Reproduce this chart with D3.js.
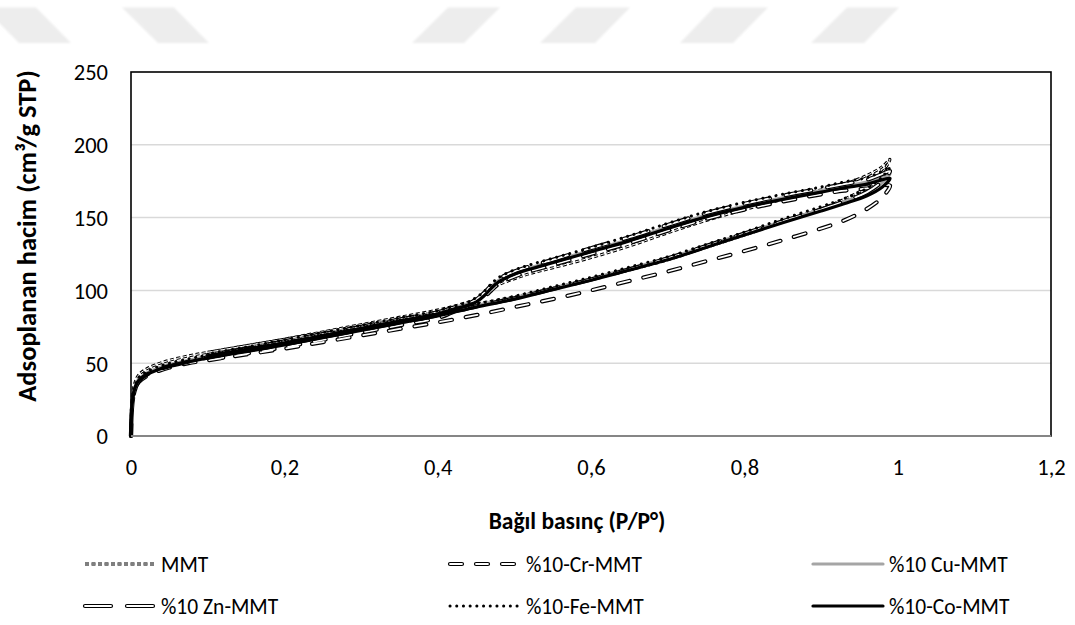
<!DOCTYPE html>
<html>
<head>
<meta charset="utf-8">
<script src="https://cdn.jsdelivr.net/npm/d3@7"></script>
<style>
  html, body { margin: 0; padding: 0; background: #fff; }
  svg { display: block; }
  text { font-family: Carlito, Calibri, Lato, "Open Sans", sans-serif; fill: #000; }
</style>
</head>
<body>
<svg id="chart" width="1075" height="625"></svg>
<script>
// ---------------- data ----------------
const xTicks = [0, 0.2, 0.4, 0.6, 0.8, 1, 1.2];
const yTicks = [0, 50, 100, 150, 200, 250];
const xTickLabels = ["0", "0,2", "0,4", "0,6", "0,8", "1", "1,2"];
const yTickLabels = ["0", "50", "100", "150", "200", "250"];
const xTitle = "Bağıl basınç (P/P°)";
const yTitle = "Adsoplanan hacim (cm³/g STP)";
const seriesNames = ["MMT", "%10-Cr-MMT", "%10 Cu-MMT", "%10 Zn-MMT", "%10-Fe-MMT", "%10-Co-MMT"];

// relative pressure, adsorption branch
const pAds = [0, 0.001, 0.003, 0.006, 0.01, 0.02, 0.035, 0.05, 0.075, 0.1, 0.15, 0.2, 0.25, 0.3, 0.35, 0.4, 0.45, 0.5, 0.55, 0.6, 0.65, 0.7, 0.75, 0.8, 0.85, 0.9, 0.93, 0.96, 0.98, 0.99];
// relative pressure, desorption branch
const pDes = [0.99, 0.98, 0.96, 0.93, 0.9, 0.85, 0.8, 0.75, 0.7, 0.65, 0.6, 0.55, 0.52, 0.5, 0.48, 0.47, 0.46, 0.45, 0.44, 0.42, 0.4, 0.35, 0.3, 0.25, 0.2, 0.15, 0.1];

const mmtAds = [0, 22, 32, 38, 42, 46, 49.5, 52, 55, 57.5, 62, 66.5, 71, 75.5, 80, 85, 90.5, 95.5, 101.5, 107.5, 114, 121, 129.5, 138, 147, 156, 162.5, 171, 181, 190];
const crAds  = [0, 17, 27, 33, 37, 41, 44.5, 47, 50, 52, 56, 60, 64.5, 69, 73.5, 78, 83, 88.5, 94, 100, 106.5, 113, 120, 127, 134.5, 142.5, 148, 156, 164, 172];
const cuAds  = [0, 19, 29, 35, 39, 43, 46.5, 49, 52, 54.5, 59, 63.5, 68.5, 73.5, 78.5, 83.5, 89.5, 95, 101.5, 108, 115, 122, 130.5, 139, 147.5, 155.5, 161, 167, 174, 180];
const znAds  = [0, 17, 27, 33, 37.5, 42, 45.5, 48, 51, 54, 58.5, 63, 68, 73, 78, 83, 89, 94.5, 101, 107.5, 114.5, 122, 130.5, 139, 147.5, 155.5, 161, 167.5, 175, 182];
const feAds  = [0, 20, 30, 36, 40, 44, 47.5, 50, 53, 55.5, 60, 64.5, 69.5, 74.5, 79.5, 84.5, 90.5, 96, 102.5, 109, 116, 123, 131.5, 140, 149, 157.5, 163, 170, 178, 185];
const coAds  = [0, 18, 28, 34, 38, 42, 45.5, 48, 51, 53.5, 58, 62.5, 67.5, 72.5, 77.5, 82.5, 88.5, 94, 100.5, 107, 114, 121, 129.5, 138, 146.5, 154.5, 159.5, 165, 171, 177];

const mmtDes = [190, 185, 179, 173, 169, 162.5, 155.5, 148, 139.5, 130.5, 122.5, 115.5, 111.5, 108, 104, 101, 97, 94, 92, 89, 86.5, 81.5, 76.5, 71.5, 66.5, 62, 57.5];
const crDes  = [172, 172, 170, 168.5, 166, 161, 155.5, 149, 141, 132.5, 125, 117.5, 113, 109.5, 104.5, 100, 95, 91, 88.5, 85, 81, 76, 71, 66, 61, 56.5, 52];
const cuDes  = [180, 178, 174.5, 171.5, 168.5, 163.5, 158, 151.5, 143.5, 135, 127.5, 120, 115.5, 112, 107, 102.5, 97, 93, 91, 88, 85, 80, 75, 70, 65, 60.5, 56];
const znDes  = [182, 180, 176, 173, 170, 165, 159.5, 153, 145, 136.5, 129, 121, 116.5, 113, 108, 103.5, 98, 93.5, 91, 88, 85, 80, 75, 70, 65, 60, 55.5];
const feDes  = [185, 182, 177.5, 174.5, 171, 166, 160.5, 154, 146, 137.5, 129.5, 122, 117.5, 114, 109, 104.5, 99, 95, 92, 89, 86, 81, 76, 71, 66, 61, 56.5];
const coDes  = [177, 176, 173, 170.5, 167.5, 162.5, 157, 150.5, 142.5, 134, 126.5, 119, 114.5, 111, 106, 101.5, 96, 92, 90, 87, 84, 79, 74, 69, 64, 59.5, 55];

// ---------------- styles ----------------
const styles = [
  { layers: [{ stroke: "#000", w: 3, dash: "4,2.5", cap: "butt" }, { stroke: "#fff", w: 1, dash: "4,2.5", cap: "butt" }] },
  { layers: [{ stroke: "#000", w: 4.2, dash: "12,14", cap: "round" }, { stroke: "#fff", w: 1.8, dash: "12,14", cap: "round" }] },
  { layers: [{ stroke: "#a5a5a5", w: 3.2, dash: null, cap: "round" }] },
  { layers: [{ stroke: "#000", w: 4.2, dash: "26,16", cap: "round" }, { stroke: "#fff", w: 1.8, dash: "26,16", cap: "round" }] },
  { layers: [{ stroke: "#000", w: 3, dash: "0.1,6.6", cap: "round" }] },
  { layers: [{ stroke: "#000", w: 3.2, dash: null, cap: "round" }] }
];

const adsSets = [mmtAds, crAds, cuAds, znAds, feAds, coAds];
const desSets = [mmtDes, crDes, cuDes, znDes, feDes, coDes];

// ---------------- drawing ----------------
const svg = d3.select("#chart");
const m = { left: 131, right: 1051, top: 72, bottom: 436 };

// faint watermark decoration at top
const wm = [
  [-16, 36, 19, 71], [122, 174, 158, 209],
  [448, 500, 412, 464], [576, 630, 540, 595], [714, 768, 680, 733], [847, 899, 811, 864]
];
const defs = svg.append("defs");
defs.append("filter").attr("id", "soft").append("feGaussianBlur").attr("stdDeviation", 0.9);
svg.append("g").attr("filter", "url(#soft)").selectAll("polygon").data(wm).join("polygon")
  .attr("points", d => `${d[0]},7.5 ${d[1]},7.5 ${d[3]},43 ${d[2]},43`)
  .attr("fill", "#ededed");

const x = d3.scaleLinear().domain([0, 1.2]).range([m.left, m.right]);
const y = d3.scaleLinear().domain([0, 250]).range([m.bottom, m.top]);

// gridlines
svg.append("g").selectAll("line").data(yTicks.filter(v => v > 0 && v < 250)).join("line")
  .attr("x1", m.left).attr("x2", m.right)
  .attr("y1", d => y(d)).attr("y2", d => y(d))
  .attr("stroke", "#d9d9d9").attr("stroke-width", 1.5);

// y axis labels
const yAxis = d3.axisLeft(y).tickValues(yTicks).tickFormat((d, i) => yTickLabels[i]).tickSize(0).tickPadding(23);
const gy = svg.append("g").attr("transform", `translate(${m.left},0)`).call(yAxis);
gy.select(".domain").remove();
gy.selectAll("text").style("font-size", "22.5px").attr("fill", "#000").attr("dy", "0.35em");

// x axis labels
const xAxis = d3.axisBottom(x).tickValues(xTicks).tickFormat((d, i) => xTickLabels[i]).tickSize(0);
const gx = svg.append("g").attr("transform", `translate(0,${m.bottom})`).call(xAxis);
gx.select(".domain").remove();
gx.selectAll("text").style("font-size", "22.5px").attr("fill", "#000").attr("y", 31).attr("dy", "0.35em");

// series
const line = d3.line().x(d => x(d[0])).y(d => y(d[1])).curve(d3.curveCatmullRom.alpha(0.5));
const plot = svg.append("g");
seriesNames.forEach((name, i) => {
  const pts = pAds.map((p, k) => [p, adsSets[i][k]]).concat(pDes.slice(1).map((p, k) => [p, desSets[i][k + 1]]));
  styles[i].layers.forEach(L => {
    plot.append("path").datum(pts)
      .attr("d", line)
      .attr("fill", "none")
      .attr("stroke", L.stroke)
      .attr("stroke-width", L.w)
      .attr("stroke-linecap", L.cap)
      .attr("stroke-linejoin", "round")
      .attr("stroke-dasharray", L.dash);
  });
});

// frame
svg.append("rect").attr("x", m.left).attr("y", m.top)
  .attr("width", m.right - m.left).attr("height", m.bottom - m.top)
  .attr("fill", "none").attr("stroke", "#000").attr("stroke-width", 1.6);
svg.append("line").attr("x1", m.left).attr("x2", m.right).attr("y1", m.bottom).attr("y2", m.bottom)
  .attr("stroke", "#868686").attr("stroke-width", 2);

// titles
svg.append("text").attr("x", 577).attr("y", 521).attr("dy", "0.35em")
  .attr("text-anchor", "middle").style("font-size", "23.5px").style("font-weight", "bold").text(xTitle);
svg.append("text").attr("transform", `translate(27,236) rotate(-90)`).attr("dy", "0.35em")
  .attr("text-anchor", "middle").style("font-size", "26.5px").style("font-weight", "bold").text(yTitle);

// legend
const colX = [85, 450, 813];
const rowY = [564, 606];
seriesNames.forEach((name, i) => {
  const cx = colX[i % 3], cy = rowY[Math.floor(i / 3)];
  const g = svg.append("g");
  styles[i].layers.forEach(L => {
    g.append("line").attr("x1", cx).attr("x2", cx + 70).attr("y1", cy).attr("y2", cy)
      .attr("stroke", L.stroke).attr("stroke-width", L.w).attr("stroke-linecap", L.cap)
      .attr("stroke-dasharray", L.dash);
  });
  g.append("text").attr("x", cx + 76).attr("y", cy).attr("dy", "0.35em")
    .style("font-size", "21.5px").text(name);
});
</script>
</body>
</html>
